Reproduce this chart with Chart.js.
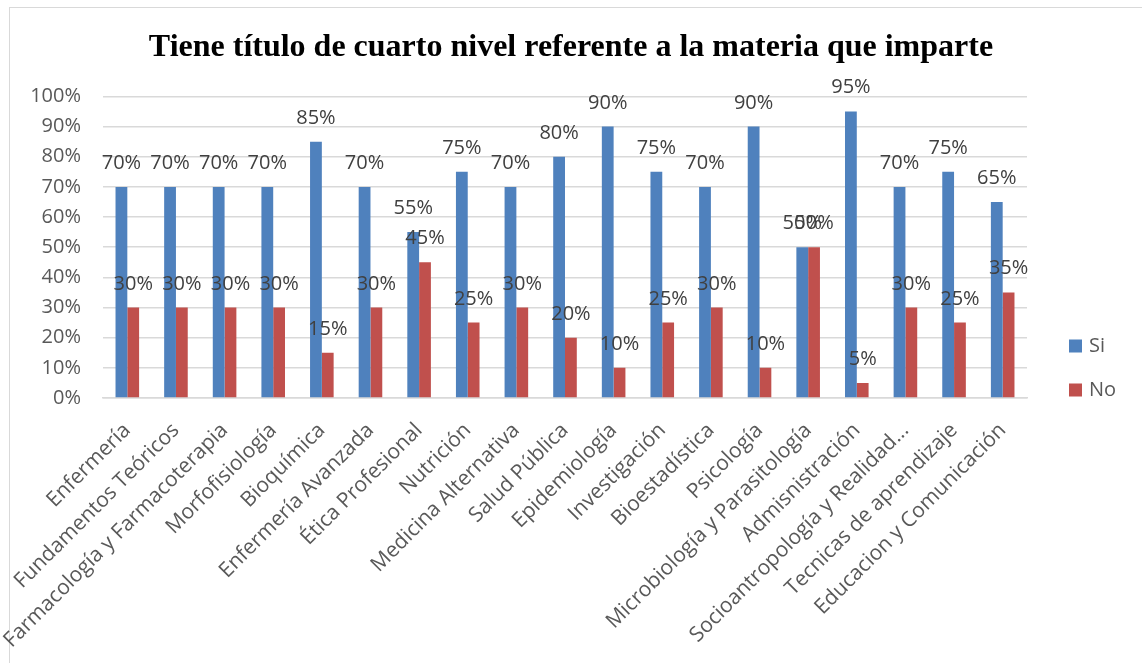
<!DOCTYPE html>
<html>
<head>
<meta charset="utf-8">
<script src="https://cdn.jsdelivr.net/npm/chart.js@4/dist/chart.umd.min.js"></script>
<style>
  html,body{margin:0;padding:0;background:#fff;}
  #wrap{position:relative;width:1142px;height:663px;}
  #frame{position:absolute;left:9px;top:7px;right:0;bottom:0;border-top:1.5px solid #d9d9d9;border-left:1.5px solid #d9d9d9;}
  canvas{position:absolute;left:0;top:0;}
</style>
</head>
<body>
<div id="wrap">
  <div id="frame"></div>
  <canvas id="chart" width="1142" height="663"></canvas>
</div>
<script>
const categories = ["Enfermería","Fundamentos Teóricos","Farmacología y Farmacoterapia","Morfofisiología","Bioquímica","Enfermería Avanzada","Ética Profesional","Nutrición","Medicina Alternativa","Salud Pública","Epidemiología","Investigación","Bioestadística","Psicología","Microbiología y Parasitología","Admisnistración","Socioantropología y Realidad...","Tecnicas de aprendizaje","Educacion y Comunicación"];
const siValues = [70,70,70,70,85,70,55,75,70,80,90,75,70,90,50,95,70,75,65];
const noValues = [30,30,30,30,15,30,45,25,30,20,10,25,30,10,50,5,30,25,35];
const seriesNames = ["Si","No"];
const seriesColors = ["#4f81bd","#c0504d"];
const chartTitle = "Tiene título de cuarto nivel referente a la materia que imparte";

const GRAY = "#595959";

// labels above each bar
const barLabels = {
  id:"barLabels",
  afterDatasetsDraw(chart){
    const ctx = chart.ctx;
    ctx.save();
    ctx.font = "20px 'Open Sans'";
    ctx.fillStyle = "#404040";
    ctx.textAlign = "center";
    ctx.textBaseline = "alphabetic";
    chart.data.datasets.forEach((ds,i)=>{
      chart.getDatasetMeta(i).data.forEach((bar,j)=>{
        ctx.fillText(ds.data[j]+"%", bar.x, bar.y-18);
      });
    });
    ctx.restore();
  }
};

// legend on the right, like the excel one
const sideLegend = {
  id:"sideLegend",
  afterDraw(chart){
    const ctx = chart.ctx, a = chart.chartArea;
    ctx.save();
    ctx.font = "20px 'Open Sans'";
    ctx.textBaseline = "middle";
    chart.data.datasets.forEach((ds,i)=>{
      const cy = a.bottom - 52 + i*44;
      ctx.fillStyle = ds.backgroundColor;
      ctx.fillRect(a.right + 42, cy-6.5, 13, 13);
      ctx.fillStyle = GRAY;
      ctx.fillText(ds.label, a.right + 62, cy);
    });
    ctx.restore();
  }
};

new Chart(document.getElementById("chart"),{
  type:"bar",
  data:{
    labels:categories,
    datasets:[
      {label:seriesNames[0],data:siValues,backgroundColor:seriesColors[0]},
      {label:seriesNames[1],data:noValues,backgroundColor:seriesColors[1]}
    ]
  },
  options:{
    responsive:false,
    animation:false,
    layout:{padding:0},
    datasets:{bar:{categoryPercentage:0.485,barPercentage:1}},
    plugins:{
      legend:{display:false},
      tooltip:{enabled:false},
      title:{display:true,text:chartTitle,color:"#000",
        font:{family:"'Liberation Serif'",size:32,weight:"bold"},
        padding:{top:29,bottom:29}}
    },
    scales:{
      x:{
        grid:{display:false},
        border:{color:"#d9d9d9",width:1.5},
        ticks:{color:GRAY,font:{family:"'Open Sans'",size:21},minRotation:45,maxRotation:45,autoSkip:false,padding:12},
        // room for the legend on the right, plot bottom kept where excel put it
        afterFit(s){ s.height = 265; s.paddingLeft = 0; s.paddingRight = 115; }
      },
      y:{
        min:0,max:100,
        grid:{color:"#d9d9d9",lineWidth:1.5,drawTicks:false},
        border:{display:false},
        ticks:{stepSize:10,color:GRAY,font:{family:"'Open Sans'",size:20},padding:22,callback:v=>v+"%"},
        afterFit(s){ s.width = 103; }
      }
    }
  },
  plugins:[barLabels,sideLegend]
});
</script>
</body>
</html>
